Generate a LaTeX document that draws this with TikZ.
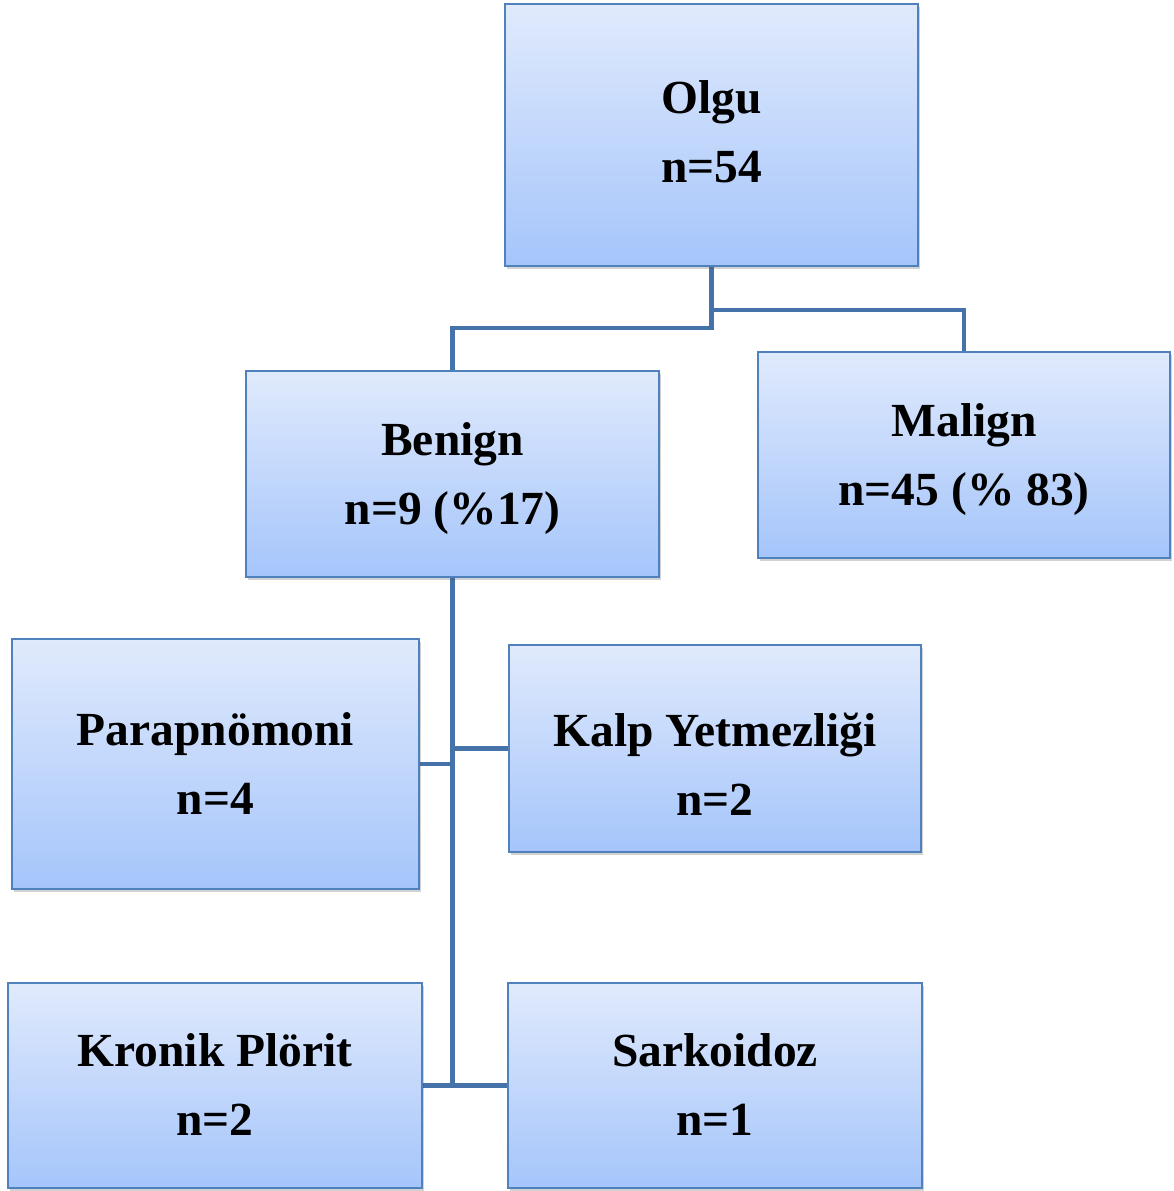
\documentclass[tikz,border=0pt]{standalone}
\usepackage{fontspec}
\setmainfont{Liberation Serif}
\usetikzlibrary{shadows,backgrounds}
\definecolor{boxtop}{RGB}{224,234,252}
\definecolor{boxbot}{RGB}{165,197,251}
\definecolor{boxline}{RGB}{79,129,189}
\definecolor{connline}{RGB}{70,114,170}
\newcommand{\twol}[2]{\raisebox{0pt}[33pt][5pt]{#1}\\\raisebox{0pt}[33pt][5pt]{#2}}
\tikzset{
  box/.style={draw=boxline, line width=2pt, top color=boxtop, bottom color=boxbot,
    rectangle, inner sep=0pt, anchor=center,
    drop shadow={shadow xshift=2pt, shadow yshift=-3pt, opacity=0.25, fill=black!70}},
  txt/.style={inner sep=0pt, align=center, anchor=center,
    font=\fontsize{47.5pt}{69pt}\selectfont\bfseries},
  conn/.style={draw=connline, line width=4.5pt}
}
\begin{document}
\begin{tikzpicture}[x=1pt,y=-1pt]
\useasboundingbox (0,0) rectangle (1173,1191);
% boxes
\node[box, minimum width=413pt, minimum height=262pt] (olgu)   at (711.5,135) {};
\node[box, minimum width=413pt, minimum height=206pt] (benign) at (452.5,474) {};
\node[box, minimum width=412pt, minimum height=206pt] (malign) at (964,455) {};
\node[box, minimum width=407pt, minimum height=250pt] (parap)  at (215.5,764) {};
\node[box, minimum width=412pt, minimum height=207pt] (kalp)   at (715,748.5) {};
\node[box, minimum width=414pt, minimum height=205pt] (kronik) at (215,1085.5) {};
\node[box, minimum width=414pt, minimum height=205pt] (sarko)  at (715,1085.5) {};
% texts
\node[txt] (olguT)   at ([yshift=1.5pt]olgu.center)   {\twol{Olgu}{n=54}};
\node[txt] (benignT) at ([yshift=-1.5pt]benign.center) {\twol{Benign}{n=9 (\%17)}};
\node[txt] (malignT) at ([yshift=-1.5pt]malign.center) {\twol{Malign}{n=45 (\% 83)}};
\node[txt] (parapT)  at ([yshift=-1.5pt]parap.center)  {\twol{Parapnömoni}{n=4}};
\node[txt] (kalpT)   at ([yshift=-18pt]kalp.center)    {\twol{Kalp Yetmezliği}{n=2}};
\node[txt] (kronikT) at ([yshift=-1pt]kronik.center)   {\twol{Kronik Plörit}{n=2}};
\node[txt] (sarkoT)  at ([yshift=-1pt]sarko.center)    {\twol{Sarkoidoz}{n=1}};
% connectors
\begin{scope}[on background layer]
\draw[conn] (olgu.south) -- ++(0,61) -| (benign.north);
\draw[conn] (olgu.south) ++(0,43) -| (malign.north);
\draw[conn] (benign.south) -- (benign.south |- kronik.east);
\draw[conn] (parap.east) -- (parap.east -| benign.south);
\draw[conn] (kalp.west) -- (kalp.west -| benign.south);
\draw[conn] (kronik.east) -- (sarko.west);
\end{scope}
\end{tikzpicture}
\end{document}
